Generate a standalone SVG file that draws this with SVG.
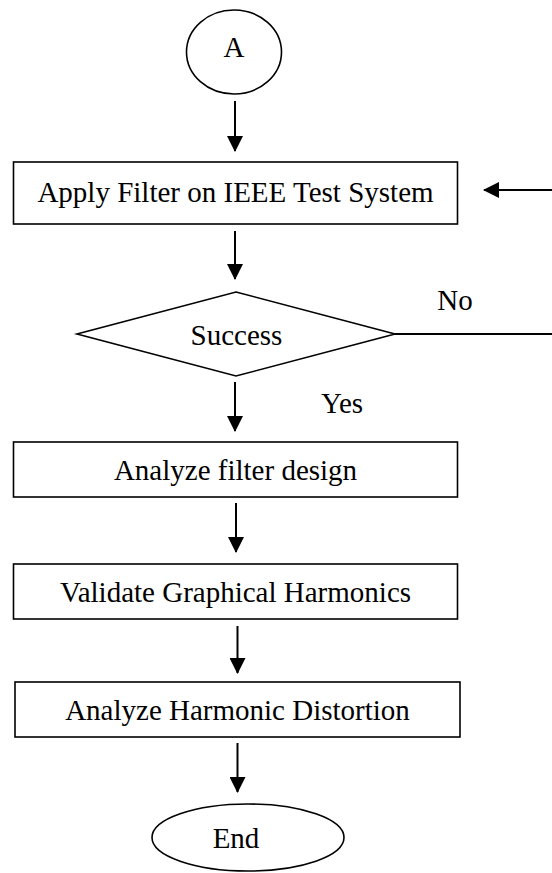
<svg xmlns="http://www.w3.org/2000/svg" width="552" height="873" viewBox="0 0 552 873">
<style>
.shape{fill:#fff;stroke:#000;stroke-width:1.6}
.t{font-family:"Liberation Serif","Times New Roman",serif;font-size:29px;fill:#000;text-anchor:middle}
.c{stroke:#000;stroke-width:2;fill:none}
</style>
<defs>
<marker id="ah" markerWidth="16" markerHeight="16" viewBox="0 0 16 16" refX="15" refY="8" orient="auto" markerUnits="userSpaceOnUse">
<path d="M0,0 L16,8 L0,16 Z" fill="#000"/>
</marker>
</defs>
<rect width="552" height="873" fill="#fff"/>
<g id="connectors">
<line class="c" x1="235" y1="101" x2="235" y2="151" marker-end="url(#ah)"/>
<line class="c" x1="235" y1="231" x2="235" y2="279" marker-end="url(#ah)"/>
<line class="c" x1="235" y1="382" x2="235" y2="431" marker-end="url(#ah)"/>
<line class="c" x1="236" y1="503" x2="236" y2="552" marker-end="url(#ah)"/>
<line class="c" x1="237.5" y1="626" x2="237.5" y2="673" marker-end="url(#ah)"/>
<line class="c" x1="237.5" y1="743" x2="237.5" y2="792" marker-end="url(#ah)"/>
<line class="c" x1="395" y1="334" x2="552" y2="334"/>
<line class="c" x1="552" y1="190" x2="484" y2="190" marker-end="url(#ah)"/>
<text class="t" x="455" y="310">No</text>
<text class="t" x="342" y="413">Yes</text>
</g>
<g id="start">
<ellipse class="shape" cx="234" cy="52" rx="47.5" ry="42"/>
<text class="t" x="234" y="57">A</text>
</g>
<g id="apply">
<rect class="shape" x="13.5" y="162" width="444" height="62"/>
<text class="t" x="235.5" y="202">Apply Filter on IEEE Test System</text>
</g>
<g id="success">
<polygon class="shape" points="236,292 395,334 236,376 77,334"/>
<text class="t" x="236.5" y="345">Success</text>
</g>
<g id="analyze">
<rect class="shape" x="13.5" y="442" width="444" height="55"/>
<text class="t" x="235.5" y="480">Analyze filter design</text>
</g>
<g id="validate">
<rect class="shape" x="13.5" y="564" width="444" height="55"/>
<text class="t" x="235.5" y="602">Validate Graphical Harmonics</text>
</g>
<g id="distortion">
<rect class="shape" x="15" y="682" width="445" height="55"/>
<text class="t" x="237.5" y="720">Analyze Harmonic Distortion</text>
</g>
<g id="end">
<ellipse class="shape" cx="248" cy="837.5" rx="96" ry="33.5"/>
<text class="t" x="236" y="848">End</text>
</g>
</svg>
